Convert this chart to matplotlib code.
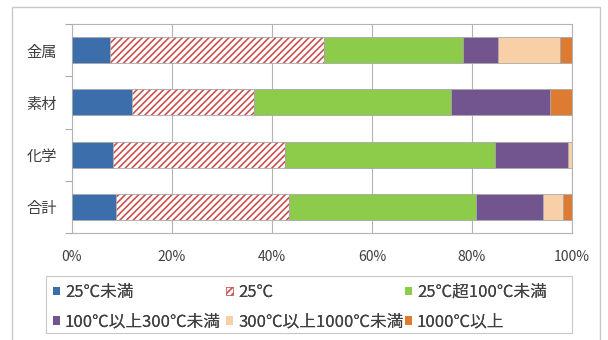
import matplotlib
matplotlib.use("Agg")
import matplotlib.pyplot as plt
from matplotlib.patches import Rectangle, Patch
import numpy as np

plt.rcParams['font.family'] = ['Noto Sans CJK JP', 'DejaVu Sans']
plt.rcParams['hatch.linewidth'] = 1.2

categories = ['金属', '素材', '化学', '合計']
series_names = ['25℃未満', '25℃', '25℃超100℃未満',
                '100℃以上300℃未満', '300℃以上1000℃未満', '1000℃以上']
below_25 = [7.6, 12.0, 8.2, 8.8]
at_25 = [42.8, 24.4, 34.4, 34.6]
from_25_to_100 = [27.8, 39.4, 42.0, 37.4]
from_100_to_300 = [7.0, 19.8, 14.6, 13.4]
from_300_to_1000 = [12.4, 0.0, 0.8, 4.0]
above_1000 = [2.4, 4.4, 0.0, 1.8]
tick_labels = ['0%', '20%', '40%', '60%', '80%', '100%']

series = [below_25, at_25, from_25_to_100, from_100_to_300, from_300_to_1000, above_1000]
colors = ['#3C6EAB', 'white', '#8DCB4B', '#72548F', '#F9CFA8', '#DE7B32']
hatch_color = '#C9524F'
edge_gray = '#A8A8A8'
text_color = '#404040'

fig = plt.figure(figsize=(6.08, 3.4), dpi=100)
fig.patch.set_facecolor('white')

# outer chart frame
fig.add_artist(Rectangle((12 / 608, -0.05), 588 / 608, 1 - 7 / 340 + 0.05,
                         transform=fig.transFigure, fill=False,
                         edgecolor='#C8C8C8', linewidth=1.0))

ax = fig.add_axes([72 / 608, 1 - 233 / 340, 500 / 608, 209 / 340])
y = np.arange(len(categories))
left = np.zeros(len(categories))
height = 0.5
handles = []
for i, (vals, col) in enumerate(zip(series, colors)):
    vals = np.array(vals)
    if i == 1:
        ax.barh(y, vals, left=left, height=height, color='white',
                edgecolor=hatch_color, hatch='/////', linewidth=0, zorder=3)
        ax.barh(y, vals, left=left, height=height, fill=False,
                edgecolor=edge_gray, linewidth=0.6, zorder=4)
        handles.append(Patch(facecolor='white', edgecolor=hatch_color,
                             hatch='/////', linewidth=0.5, label=series_names[i]))
    else:
        ax.barh(y, vals, left=left, height=height, color=col,
                edgecolor=edge_gray, linewidth=0.6, zorder=3)
        handles.append(Patch(facecolor=col, edgecolor='none', label=series_names[i]))
    left += vals

ax.set_xlim(0, 100)
ax.set_ylim(len(categories) - 0.5, -0.5)
ax.set_xticks(np.arange(0, 101, 20))
ax.set_xticklabels(tick_labels)
ax.set_yticks(y)
ax.set_yticklabels(categories)
ax.set_yticks(np.arange(-0.5, len(categories), 1), minor=True)
ax.tick_params(axis='y', which='major', length=0, pad=11, labelsize=11,
               labelcolor=text_color)
ax.tick_params(axis='y', which='minor', length=5, color=edge_gray, width=0.8)
ax.tick_params(axis='x', length=0, pad=12, labelsize=10, labelcolor=text_color)
ax.grid(axis='x', color='#B4B4B4', linewidth=0.8, zorder=0)
ax.set_axisbelow(True)
for s in ax.spines.values():
    s.set_color('#B4B4B4')
    s.set_linewidth(0.8)

# legend box
fig.add_artist(Rectangle((46 / 608, 1 - 333 / 340), 526 / 608, 57 / 340,
                         transform=fig.transFigure, fill=False,
                         edgecolor='#C8C8C8', linewidth=0.8))

# legend: three columns, two rows, filled row by row
column_x = [53, 226, 405]
for c, x0 in enumerate(column_x):
    idx = [c, c + 3]
    leg = fig.legend([handles[k] for k in idx], [series_names[k] for k in idx],
                     ncol=1, loc='upper left',
                     bbox_to_anchor=(x0 / 608, 1 - 284 / 340),
                     fontsize=12, frameon=False,
                     handlelength=0.42, handleheight=0.42,
                     handletextpad=0.3, labelspacing=0.74,
                     borderpad=0.0, borderaxespad=0)
    for t in leg.get_texts():
        t.set_color(text_color)
    fig.add_artist(leg)

fig.savefig('out.png', dpi=100, facecolor='white')
